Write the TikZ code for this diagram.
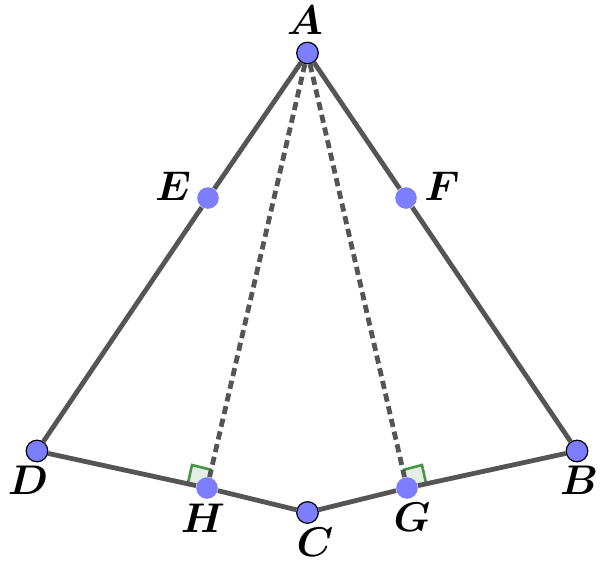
\documentclass[tikz,border=0pt]{standalone}
\usepackage{amsmath}
\definecolor{aa}{RGB}{125, 125, 255}
\definecolor{bb}{RGB}{85, 85, 85}
\definecolor{cc}{RGB}{70, 150, 70}
\definecolor{dd}{RGB}{228, 238, 228}
\newcommand{\ptnode}[4]{\node[#4] (#1) at (#2,#3) {};}
\tikzset{
	solidline/.style={color=bb,line width=2.4pt},
	dashline/.style={color=bb,line width=2.4pt,dash pattern=on 4.1pt off 2.4pt},
	ptname/.style={inner sep=0pt,font=\huge},
	freept/.style={circle,draw=black,line width=0.6pt,fill=aa,inner sep=0pt,minimum size=10.8pt},
	midpt/.style={circle,fill=aa,inner sep=0pt,minimum size=10.8pt},
	rightmark/.style={draw=cc,line width=1.3pt}
}
\begin{document}
\begin{tikzpicture}[x=0.5pt,y=-0.5pt]
\useasboundingbox (0,0) rectangle (602,563);

\coordinate (h0) at (207,488);
\coordinate (h1) at (188,483);
\coordinate (h2) at (192,465);
\coordinate (h3) at (212,470);
\coordinate (g0) at (407,488);
\coordinate (g1) at (426,483);
\coordinate (g2) at (422,465);
\coordinate (g3) at (403,470);

\fill[dd] (h0) -- (h1) -- (h2) -- (h3) -- cycle;
\fill[dd] (g0) -- (g1) -- (g2) -- (g3) -- cycle;
\draw[rightmark] (h1) -- (h2) -- (h3);
\draw[rightmark] (g1) -- (g2) -- (g3);

\ptnode{A}{307.5}{53}{freept}
\ptnode{B}{577}{451}{freept}
\ptnode{C}{307.5}{512.5}{freept}
\ptnode{D}{37}{451}{freept}
\ptnode{E}{208}{198}{midpt}
\ptnode{F}{406}{198}{midpt}
\ptnode{G}{407}{488}{midpt}
\ptnode{H}{207}{488}{midpt}

\draw[solidline] (A) -- (E);
\draw[solidline] (E) -- (D);
\draw[solidline] (A) -- (F);
\draw[solidline] (F) -- (B);
\draw[solidline] (D) -- (H);
\draw[solidline] (H) -- (C);
\draw[solidline] (C) -- (G);
\draw[solidline] (G) -- (B);
\draw[dashline] (A) -- (H);
\draw[dashline] (A) -- (G);

\node[ptname] (nameA) at (305,20) {$\boldsymbol{A}$};
\node[ptname] (nameB) at (579,480) {$\boldsymbol{B}$};
\node[ptname] (nameC) at (315,542) {$\boldsymbol{C}$};
\node[ptname] (nameD) at (28,480) {$\boldsymbol{D}$};
\node[ptname] (nameE) at (173,186) {$\boldsymbol{E}$};
\node[ptname] (nameF) at (442,186) {$\boldsymbol{F}$};
\node[ptname] (nameG) at (412,517) {$\boldsymbol{G}$};
\node[ptname] (nameH) at (203,518) {$\boldsymbol{H}$};
\end{tikzpicture}
\end{document}
